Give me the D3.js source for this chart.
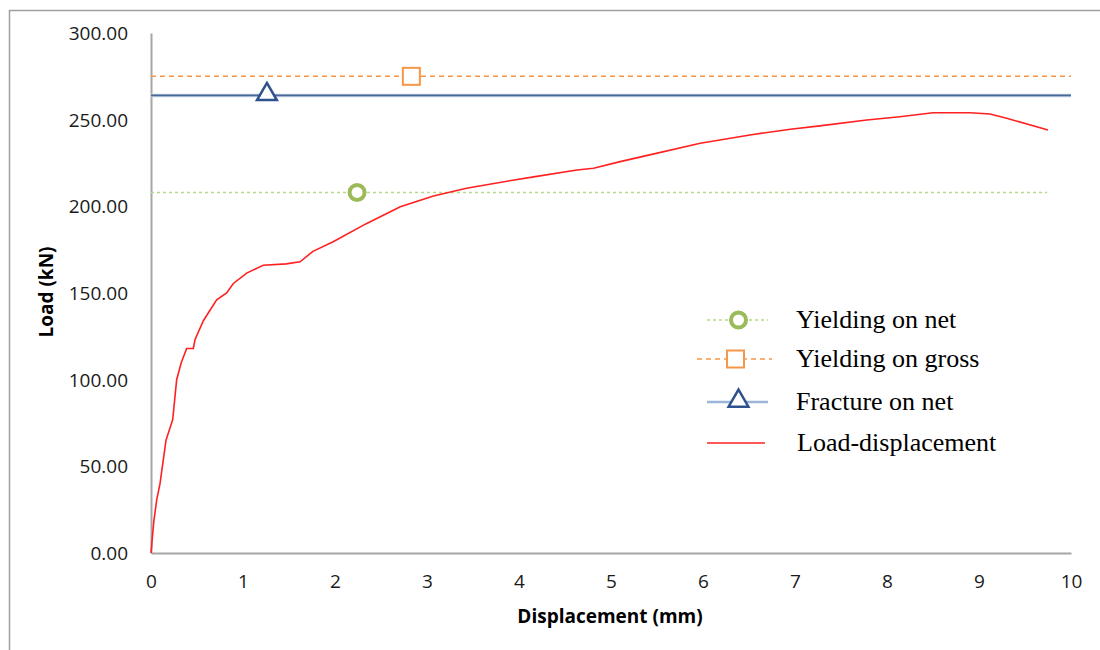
<!DOCTYPE html>
<html>
<head>
<meta charset="utf-8">
<script src="https://cdn.jsdelivr.net/npm/d3@7"></script>
<style>
  body { margin: 0; background: #fff; }
  .tick-label { font-family: "Open Sans", sans-serif; font-size: 19px; fill: #1a1a1a; }
  .axis-title { font-family: "Open Sans", sans-serif; font-size: 19px; font-weight: bold; fill: #000; }
  .legend-text { font-family: "Liberation Serif", "Times New Roman", serif; font-size: 26px; fill: #000; }
</style>
</head>
<body>
<div id="chart"></div>
<script>
// Load-displacement curve (mm, kN)
const curveDisp = [0, 0.03, 0.062, 0.098, 0.163, 0.236, 0.279, 0.33, 0.388, 0.46, 0.478, 0.569, 0.714, 0.822, 0.895, 1.04, 1.22, 1.47, 1.62, 1.76, 1.98, 2.34, 2.71, 3.07, 3.43, 3.79, 4.16, 4.63, 4.81, 5.1, 5.42, 5.97, 6.51, 6.95, 7.27, 7.78, 8.14, 8.5, 8.9, 9.12, 9.3, 9.75];
const curveLoad = [0, 18, 30.6, 40, 65, 77, 100, 110, 118, 118, 123, 134, 146, 150, 155.5, 161.5, 166, 166.8, 168, 174, 179.6, 190, 199.8, 206, 210.4, 213.8, 217, 221, 222, 225.8, 229.7, 236.4, 241.2, 244.5, 246.4, 249.8, 251.7, 254, 254, 253.3, 250.8, 244];

// Reference load levels
const refNames = ["Yielding on net", "Yielding on gross", "Fracture on net"];
const refLoads = [208, 275, 264];
const refEnd = [9.74, 10, 10];
const refMarkerDisp = [2.24, 2.83, 1.26];

const yTicks = [0, 50, 100, 150, 200, 250, 300];
const xTicks = [0, 1, 2, 3, 4, 5, 6, 7, 8, 9, 10];

const W = 1100, H = 650;
const margin = { top: 33, right: 29, bottom: 97, left: 151 };
const width = W - margin.left - margin.right;
const height = H - margin.top - margin.bottom;

const svgRoot = d3.select("#chart").append("svg")
    .attr("width", W)
    .attr("height", H);

// outer chart frame
svgRoot.append("rect")
    .attr("x", 9.5).attr("y", 10.5)
    .attr("width", 1200).attr("height", 800)
    .style("fill", "none")
    .style("stroke", "#a0a0a0")
    .style("stroke-width", 1.5);

const svg = svgRoot.append("g")
    .attr("transform", `translate(${margin.left},${margin.top})`);

const x = d3.scaleLinear().domain([0, 10]).range([0, width]);
const y = d3.scaleLinear().domain([0, 300]).range([height, 0]);

// axes
const xAxis = d3.axisBottom(x).tickValues(xTicks).tickSize(0).tickPadding(22).tickFormat(d3.format("d"));
const yAxis = d3.axisLeft(y).tickValues(yTicks).tickSize(0).tickPadding(23).tickFormat(d3.format(".2f"));

const gx = svg.append("g").attr("transform", `translate(0,${height})`).call(xAxis);
const gy = svg.append("g").call(yAxis);
[gx, gy].forEach(g => {
  g.select(".domain").style("stroke", "#a6a6a6").style("stroke-width", 2);
  g.selectAll("text").attr("class", "tick-label").attr("font-family", null).attr("font-size", null);
});
gy.selectAll("text").attr("dy", "0.35em");

svg.append("text")
    .attr("class", "axis-title")
    .attr("x", 610 - margin.left)
    .attr("y", height + 70)
    .style("text-anchor", "middle")
    .text("Displacement (mm)");

svg.append("text")
    .attr("class", "axis-title")
    .attr("transform", "rotate(-90)")
    .attr("x", -(292 - margin.top))
    .attr("y", -98)
    .style("text-anchor", "middle")
    .text("Load (kN)");

// reference line styles
const refStyle = [
  { color: "#b5d98a", dash: "3,3", width: 1.5, marker: "circle", mcolor: "#9bbb59" },
  { color: "#f79646", dash: "5,4", width: 1.5, marker: "square", mcolor: "#f79646" },
  { color: "#4a6896", dash: null, width: 1.8, marker: "triangle", mcolor: "#2f528f" }
];

function drawMarker(g, type, cx, cy, color) {
  if (type === "circle") {
    g.append("circle").attr("cx", cx).attr("cy", cy).attr("r", 7.5)
      .style("fill", "#fff").style("stroke", color).style("stroke-width", 4);
  } else if (type === "square") {
    g.append("rect").attr("x", cx - 8.5).attr("y", cy - 8.5).attr("width", 17).attr("height", 17)
      .style("fill", "#fff").style("stroke", color).style("stroke-width", 2);
  } else {
    const tri = d3.symbol().type(d3.symbolTriangle).size(170);
    g.append("path").attr("d", tri).attr("transform", `translate(${cx},${cy - 1})`)
      .style("fill", "#fff").style("stroke", color).style("stroke-width", 2.5);
  }
}

refLoads.forEach((v, i) => {
  const s = refStyle[i];
  if (i === 2) {
    svg.append("line")
      .attr("x1", x(0)).attr("x2", x(refEnd[i]))
      .attr("y1", y(v)).attr("y2", y(v))
      .style("stroke", "#c3d2e6").style("stroke-width", 3.5);
  }
  svg.append("line")
    .attr("x1", x(0)).attr("x2", x(refEnd[i]))
    .attr("y1", y(v)).attr("y2", y(v))
    .style("stroke", s.color)
    .style("stroke-width", s.width)
    .style("stroke-dasharray", s.dash);
});

// load-displacement curve
const curve = curveDisp.map((d, i) => ({ x: d, y: curveLoad[i] }));
const line = d3.line().x(d => x(d.x)).y(d => y(d.y));
svg.append("path")
    .datum(curve)
    .attr("d", line)
    .style("fill", "none")
    .style("stroke", "#ff2020")
    .style("stroke-width", 1.6);

refLoads.forEach((v, i) => {
  drawMarker(svg, refStyle[i].marker, x(refMarkerDisp[i]), y(v), refStyle[i].mcolor);
});

// legend
const legendRows = [
  { name: refNames[0], ly: 320, x1: 707, x2: 768, style: refStyle[0] },
  { name: refNames[1], ly: 359, x1: 697, x2: 772, style: refStyle[1] },
  { name: refNames[2], ly: 402, x1: 707, x2: 768, style: refStyle[2] },
  { name: "Load-displacement", ly: 443, x1: 707, x2: 765, style: null }
];
const legend = svgRoot.append("g");
legendRows.forEach(r => {
  if (r.style) {
    legend.append("line")
      .attr("x1", r.x1).attr("x2", r.x2).attr("y1", r.ly).attr("y2", r.ly)
      .style("stroke", r.style === refStyle[2] ? "#9ab5d8" : r.style.color)
      .style("stroke-width", r.style === refStyle[2] ? 2.5 : 1.5)
      .style("stroke-dasharray", r.style.dash);
    drawMarker(legend, r.style.marker, (r.x1 + r.x2) / 2 + 1, r.ly, r.style.mcolor);
  } else {
    legend.append("line")
      .attr("x1", r.x1).attr("x2", r.x2).attr("y1", r.ly).attr("y2", r.ly)
      .style("stroke", "#ff2020").style("stroke-width", 1.6);
  }
  legend.append("text")
    .attr("class", "legend-text")
    .attr("x", r.style ? 796 : 797)
    .attr("y", r.ly + 8)
    .text(r.name);
});
</script>
</body>
</html>
